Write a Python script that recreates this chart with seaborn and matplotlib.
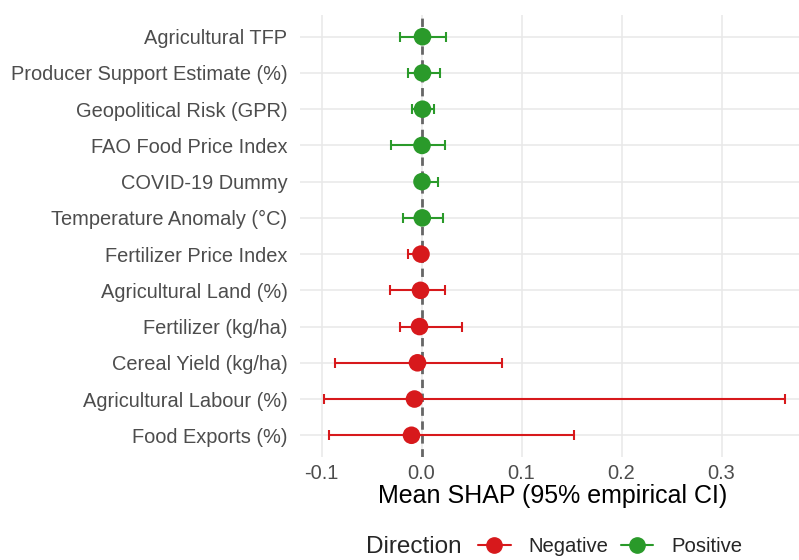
import numpy as np
import pandas as pd
import seaborn as sns
import matplotlib.pyplot as plt
from matplotlib.lines import Line2D

# values (top to bottom)
features = ['Agricultural TFP', 'Producer Support Estimate (%)', 'Geopolitical Risk (GPR)',
            'FAO Food Price Index', 'COVID-19 Dummy', 'Temperature Anomaly (°C)',
            'Fertilizer Price Index', 'Agricultural Land (%)', 'Fertilizer (kg/ha)',
            'Cereal Yield (kg/ha)', 'Agricultural Labour (%)', 'Food Exports (%)']
mean_shap = [0.001, 0.001, 0.001, 0.0005, 0.0005, 0.0008,
             -0.0005, -0.001, -0.002, -0.004, -0.007, -0.010]
ci_low = [-0.022, -0.014, -0.010, -0.031, -0.002, -0.019,
          -0.014, -0.032, -0.022, -0.087, -0.098, -0.093]
ci_high = [0.024, 0.018, 0.012, 0.023, 0.016, 0.021,
           0.005, 0.023, 0.040, 0.080, 0.363, 0.152]
direction = ['Positive'] * 6 + ['Negative'] * 6

palette = {'Negative': '#d7191c', 'Positive': '#2a9a2a'}

df = pd.DataFrame({'feature': features, 'mean': mean_shap, 'lo': ci_low,
                   'hi': ci_high, 'direction': direction})
df['pos'] = np.arange(len(df))

sns.set_theme(style='whitegrid')
plt.rcParams['font.family'] = ['Liberation Sans', 'DejaVu Sans']

fig = plt.figure(figsize=(7.99, 5.60), dpi=100)
ax = fig.add_axes([300 / 799, 1 - 457 / 560, 499 / 799, 442 / 560])

ax.axvline(0, color='#666666', lw=2, ls=(0, (3, 2)), zorder=1)

for d, sub in df.groupby('direction'):
    ax.errorbar(sub['mean'], sub['pos'],
                xerr=[sub['mean'] - sub['lo'], sub['hi'] - sub['mean']],
                fmt='none', ecolor=palette[d], elinewidth=1.5, capsize=3.5,
                capthick=1.5, zorder=2)

sns.scatterplot(data=df, x='mean', y='pos', hue='direction', palette=palette,
                s=160, edgecolor='none', legend=False, ax=ax, zorder=3)

ax.set_ylim(len(df) - 0.4, -0.6)
ax.set_yticks(df['pos'], labels=df['feature'])
ax.set_xlim(-0.1215, 0.3775)
ax.set_xticks([-0.1, 0.0, 0.1, 0.2, 0.3], labels=['-0.1', '0.0', '0.1', '0.2', '0.3'])
ax.tick_params(axis='both', length=0, colors='#4d4d4d', labelsize=14.4, pad=5)
ax.tick_params(axis='y', pad=9)
ax.grid(True, color='#e8e8e8', lw=1.1)
for s in ax.spines.values():
    s.set_visible(False)
ax.set_ylabel('')
ax.set_xlabel('Mean SHAP (95% empirical CI)', fontsize=18, color='black')
ax.xaxis.set_label_coords((553 - 300) / 499, -0.062)

handles = [Line2D([], [], color=palette[k], marker='o', markersize=11, lw=1.5)
           for k in ['Negative', 'Positive']]
fig.text(462 / 799, 1 - 547 / 560, 'Direction', fontsize=17.5, ha='right', va='center')
fig.legend(handles, ['Negative', 'Positive'], loc='center left', ncol=2,
           bbox_to_anchor=(468 / 799, 1 - 547 / 560), frameon=False, fontsize=14.6,
           handlelength=1.6, columnspacing=0.6, handletextpad=0.9, borderpad=0)

fig.savefig('out.png', dpi=100)
plt.close(fig)
